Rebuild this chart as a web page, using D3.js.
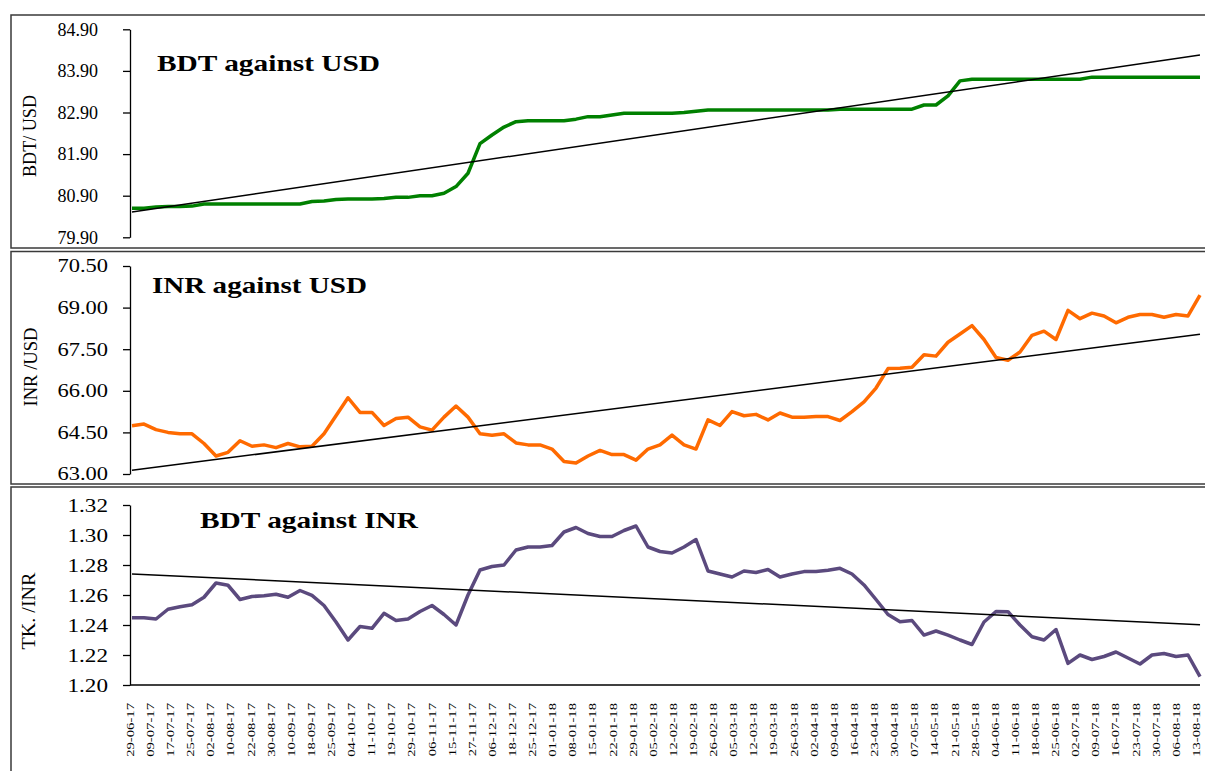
<!DOCTYPE html>
<html>
<head>
<meta charset="utf-8">
<script src="https://cdn.jsdelivr.net/npm/d3@7"></script>
<style>
  body { margin: 0; background: #fff; }
  text { font-family: "Liberation Serif", "Times New Roman", serif; fill: #000; }
</style>
</head>
<body>
<svg id="chart"></svg>
<script>
// DATA

// category labels shown under the bottom panel (every 5th trading day)
const dates = [
  "29-06-17","09-07-17","17-07-17","25-07-17","02-08-17","10-08-17","22-08-17","30-08-17",
  "10-09-17","18-09-17","25-09-17","04-10-17","11-10-17","19-10-17","29-10-17","06-11-17",
  "15-11-17","27-11-17","06-12-17","18-12-17","25-12-17","01-01-18","08-01-18","15-01-18",
  "22-01-18","29-01-18","05-02-18","12-02-18","19-02-18","26-02-18","05-03-18","12-03-18",
  "19-03-18","26-03-18","02-04-18","09-04-18","16-04-18","23-04-18","30-04-18","07-05-18",
  "14-05-18","21-05-18","28-05-18","04-06-18","11-06-18","18-06-18","25-06-18","02-07-18",
  "09-07-18","16-07-18","23-07-18","30-07-18","06-08-18","13-08-18"
];

// series, evenly spaced over the date span
const bdtUsd = [
  80.60,80.60,80.63,80.64,80.64,80.65,80.70,80.70,80.70,80.70,
  80.70,80.70,80.70,80.70,80.70,80.76,80.77,80.81,80.82,80.82,
  80.82,80.83,80.86,80.86,80.90,80.90,80.96,81.12,81.44,82.15,
  82.36,82.55,82.68,82.70,82.70,82.70,82.70,82.74,82.80,82.80,
  82.84,82.88,82.88,82.88,82.88,82.88,82.90,82.93,82.96,82.96,
  82.96,82.96,82.96,82.96,82.96,82.96,82.96,82.96,82.96,82.98,
  82.98,82.98,82.98,82.98,82.98,82.98,83.08,83.08,83.30,83.66,
  83.70,83.70,83.70,83.70,83.70,83.70,83.70,83.70,83.70,83.70,
  83.75,83.75,83.75,83.75,83.75,83.75,83.75,83.75,83.75,83.75
];

const inrUsd = [
  64.74,64.80,64.60,64.50,64.45,64.45,64.10,63.65,63.78,64.20,
  64.00,64.05,63.95,64.10,63.98,64.00,64.45,65.10,65.75,65.22,
  65.22,64.75,65.00,65.05,64.70,64.58,65.05,65.45,65.05,64.45,
  64.40,64.45,64.12,64.05,64.05,63.90,63.45,63.40,63.65,63.85,
  63.70,63.70,63.50,63.90,64.05,64.40,64.05,63.90,64.95,64.75,
  65.25,65.10,65.15,64.95,65.20,65.05,65.05,65.07,65.07,64.93,
  65.25,65.60,66.10,66.80,66.81,66.85,67.30,67.25,67.75,68.05,
  68.35,67.85,67.20,67.10,67.40,68.00,68.15,67.85,68.90,68.60,
  68.80,68.70,68.45,68.65,68.75,68.75,68.65,68.75,68.70,69.45
];

const bdtInr = [
  1.2449,1.2449,1.2440,1.2505,1.2522,1.2535,1.2585,1.2680,1.2665,1.2570,
  1.2590,1.2595,1.2605,1.2585,1.2630,1.2597,1.2530,1.2420,1.2300,1.2390,
  1.2378,1.2478,1.2430,1.2440,1.2490,1.2530,1.2470,1.2400,1.2600,1.2767,
  1.2790,1.2800,1.2900,1.2920,1.2920,1.2930,1.3020,1.3050,1.3010,1.2990,
  1.2990,1.3030,1.3060,1.2920,1.2890,1.2880,1.2920,1.2970,1.2760,1.2740,
  1.2720,1.2760,1.2750,1.2770,1.2720,1.2740,1.2756,1.2756,1.2765,1.2778,
  1.2740,1.2667,1.2570,1.2470,1.2422,1.2430,1.2333,1.2360,1.2333,1.2300,
  1.2270,1.2420,1.2490,1.2489,1.2400,1.2322,1.2300,1.2370,1.2144,1.2200,
  1.2170,1.2190,1.2220,1.2180,1.2140,1.2200,1.2210,1.2190,1.2200,1.2056
];

// y tick labels
const bdtUsdTicks = [79.90, 80.90, 81.90, 82.90, 83.90, 84.90];
const inrUsdTicks = [63.00, 64.50, 66.00, 67.50, 69.00, 70.50];
const bdtInrTicks = [1.20, 1.22, 1.24, 1.26, 1.28, 1.30, 1.32];

// PAGE SETUP

let width = 1205;
let height = 771;
let x0 = 132, x1 = 1200;

let svg = d3.select("#chart")
  .attr("width", width)
  .attr("height", height);

svg.append("rect")
  .attr("width", width)
  .attr("height", height)
  .attr("fill", "#fff");

// x scales shared by all three panels
let xData = d3.scaleLinear().domain([0, bdtUsd.length - 1]).range([x0, x1]);
let xLabel = d3.scalePoint().domain(dates).range([x0 - 2, x1 - 4]);

let panels = [
  {values: bdtUsd, ticks: bdtUsdTicks, top: 29.3, bottom: 237.3, color: "#008000",
   title: "BDT against USD", titleX: 157, titleY: 71, titleLen: 223, titleSize: 24,
   yLabel: "BDT/ USD", yLabelX: 30, yLabelY: 136, yLabelLen: 82,
   tickRight: 98, tickStretch: 1.0, tickFont: 18, frame: [15, 248]},
  {values: inrUsd, ticks: inrUsdTicks, top: 266, bottom: 474, color: "#ff6a00",
   title: "INR against USD", titleX: 152, titleY: 293, titleLen: 215, titleSize: 23,
   yLabel: "INR /USD", yLabelX: 31, yLabelY: 367, yLabelLen: 79,
   tickRight: 108, tickStretch: 1.25, tickFont: 18, frame: [251.5, 484]},
  {values: bdtInr, ticks: bdtInrTicks, top: 505, bottom: 685, color: "#5b4a7e",
   title: "BDT against INR", titleX: 200, titleY: 528, titleLen: 218, titleSize: 24,
   yLabel: "TK. /INR", yLabelX: 29, yLabelY: 611, yLabelLen: 77,
   tickRight: 108, tickStretch: 1.22, tickFont: 19, frame: [487, 800], xAxis: true}
];

panels.forEach(drawPanel);

function drawPanel(p){
  let g = svg.append("g");

  // panel border
  g.append("rect")
    .attr("x", 11)
    .attr("y", p.frame[0])
    .attr("width", 1220)
    .attr("height", p.frame[1] - p.frame[0])
    .attr("fill", "none")
    .attr("stroke", "#3a3a3a")
    .attr("stroke-width", 1.5);

  let y = d3.scaleLinear()
    .domain([p.ticks[0], p.ticks[p.ticks.length - 1]])
    .range([p.bottom, p.top]);

  // y axis (line + ticks), labels drawn separately so they can be stretched
  let axis = g.append("g")
    .attr("transform", `translate(${x0 - 2},0)`)
    .call(d3.axisLeft(y).tickValues(p.ticks).tickSize(7).tickSizeOuter(0).tickFormat(""));
  axis.selectAll("path, line").attr("stroke", "#000").attr("stroke-width", 1.3);

  g.selectAll(".ytick")
    .data(p.ticks)
    .enter()
    .append("text")
    .attr("class", "ytick")
    .attr("transform", d => `translate(${p.tickRight},${y(d)}) scale(${p.tickStretch},1)`)
    .attr("dy", "0.35em")
    .attr("text-anchor", "end")
    .style("font-size", p.tickFont + "px")
    .text(d => d.toFixed(2));

  // y axis title
  g.append("text")
    .attr("transform", `translate(${p.yLabelX},${p.yLabelY}) rotate(-90)`)
    .attr("dy", "0.35em")
    .attr("text-anchor", "middle")
    .attr("textLength", p.yLabelLen)
    .attr("lengthAdjust", "spacingAndGlyphs")
    .style("font-size", "18px")
    .text(p.yLabel);

  // panel title
  g.append("text")
    .attr("x", p.titleX)
    .attr("y", p.titleY)
    .attr("textLength", p.titleLen)
    .attr("lengthAdjust", "spacingAndGlyphs")
    .style("font-size", p.titleSize + "px")
    .style("font-weight", "bold")
    .text(p.title);

  if (p.xAxis){
    g.append("line")
      .attr("x1", x0 - 2)
      .attr("x2", x1)
      .attr("y1", p.bottom)
      .attr("y2", p.bottom)
      .attr("stroke", "#000")
      .attr("stroke-width", 1.3);

    g.selectAll(".xtick")
      .data(dates)
      .enter()
      .append("text")
      .attr("class", "xtick")
      .attr("transform", d => `translate(${xLabel(d)},${p.bottom + 18}) rotate(-90) scale(1,0.75)`)
      .attr("dy", "0.35em")
      .attr("text-anchor", "end")
      .style("font-size", "14.7px")
      .text(d => d);
  }

  // series line
  let line = d3.line()
    .x((d, i) => xData(i))
    .y(d => y(d));

  g.append("path")
    .datum(p.values)
    .attr("d", line)
    .attr("fill", "none")
    .attr("stroke", p.color)
    .attr("stroke-width", 3.5)
    .attr("stroke-linejoin", "round");

  // linear trend (least squares over the series)
  let fit = linearFit(p.values);
  let n = p.values.length;
  g.append("line")
    .attr("x1", xData(0))
    .attr("y1", y(fit.b))
    .attr("x2", xData(n - 1))
    .attr("y2", y(fit.b + fit.m * (n - 1)))
    .attr("stroke", "#000")
    .attr("stroke-width", 1.5);
}

// HELPER FUNCTIONS

function linearFit(values){
  let mx = d3.mean(values, (d, i) => i);
  let my = d3.mean(values);
  let sxy = 0, sxx = 0;
  values.forEach(function(v, i){
    sxy += (i - mx) * (v - my);
    sxx += (i - mx) * (i - mx);
  });
  let m = sxy / sxx;
  return {m: m, b: my - m * mx};
}
</script>
</body>
</html>
